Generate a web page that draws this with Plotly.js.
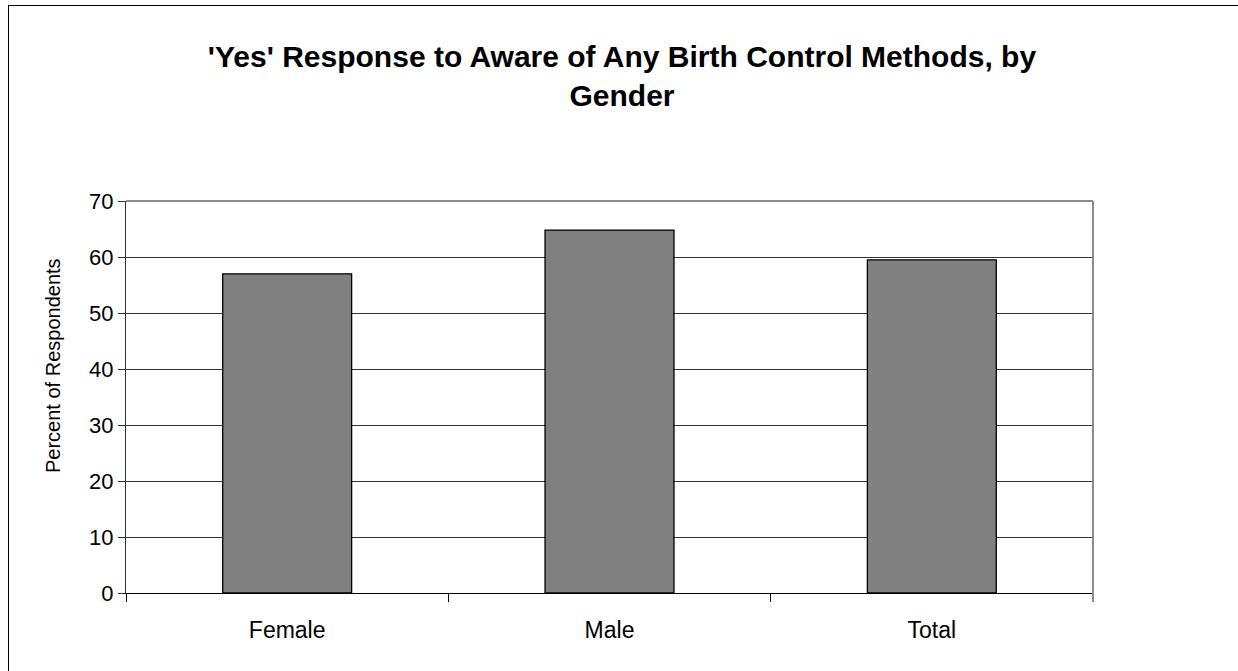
<!DOCTYPE html>
<html>
<head>
<meta charset="utf-8">
<script src="https://cdn.plot.ly/plotly-3.0.1.min.js"></script>
<style>
  html, body { margin: 0; padding: 0; background: #fff; }
  #wrap { position: relative; width: 1238px; height: 671px; overflow: hidden; }
  #frame { position: absolute; left: 8px; top: 5px; width: 1300px; height: 700px;
           border-left: 1px solid #000; border-top: 1px solid #000; pointer-events: none; }
  #chart { position: absolute; left: 0; top: 0; width: 1238px; height: 671px; }
</style>
</head>
<body>
<div id="wrap">
  <div id="chart"></div>
  <div id="frame"></div>
</div>
<script>
const categories = ['Female', 'Male', 'Total'];
const percentYes = [57.0, 64.8, 59.5];
const chartTitle = "'Yes' Response to Aware of Any Birth Control Methods, by<br>Gender";
const yTitle = 'Percent of Respondents';

const FONT = 'Liberation Sans, Arial, Helvetica, sans-serif';

const trace = {
  type: 'bar',
  x: categories,
  y: percentYes,
  marker: { color: '#808080', line: { color: '#000000', width: 1.3 } },
  hoverinfo: 'x+y'
};

const layout = {
  width: 1238,
  height: 671,
  margin: { l: 126, r: 145, t: 201, b: 78 },
  paper_bgcolor: 'rgba(0,0,0,0)',
  plot_bgcolor: '#ffffff',
  showlegend: false,
  bargap: 0.6,
  font: { family: FONT, color: '#000' },
  title: {
    text: chartTitle,
    font: { family: FONT, size: 30, color: '#000', weight: 'bold' },
    x: 622 / 1238,
    xref: 'container',
    xanchor: 'center',
    y: 1 - 67 / 671,
    yref: 'container',
    yanchor: 'top'
  },
  xaxis: {
    type: 'category',
    showline: true,
    linecolor: '#000',
    linewidth: 1,
    ticks: 'outside',
    tickson: 'boundaries',
    ticklen: 8,
    tickcolor: '#000',
    ticklabelstandoff: 16,
    tickfont: { family: FONT, size: 23, color: '#000' },
    showgrid: false,
    zeroline: false,
    fixedrange: true
  },
  yaxis: {
    range: [0, 70],
    dtick: 10,
    tick0: 0,
    showline: true,
    linecolor: '#333',
    linewidth: 1,
    ticks: 'outside',
    ticklen: 7,
    tickcolor: '#333',
    tickfont: { family: FONT, size: 22, color: '#000' },
    showgrid: true,
    gridcolor: '#333',
    gridwidth: 1,
    zeroline: false,
    fixedrange: true
  },
  annotations: [
    { text: yTitle, xref: 'paper', yref: 'paper',
      x: (53 - 126) / 967, y: (593 - 366) / 392,
      xanchor: 'center', yanchor: 'middle', textangle: -90, showarrow: false,
      font: { family: FONT, size: 20, color: '#000' } }
  ],
  shapes: [
    { type: 'line', xref: 'paper', yref: 'paper', x0: 0, x1: 1, y0: 1, y1: 1,
      line: { color: '#8c8c8c', width: 2 } },
    { type: 'line', xref: 'paper', yref: 'paper', x0: 1, x1: 1, y0: -0.023, y1: 1,
      line: { color: '#8c8c8c', width: 2 } }
  ]
};

Plotly.newPlot('chart', [trace], layout, { displayModeBar: false, staticPlot: true });
</script>
</body>
</html>
